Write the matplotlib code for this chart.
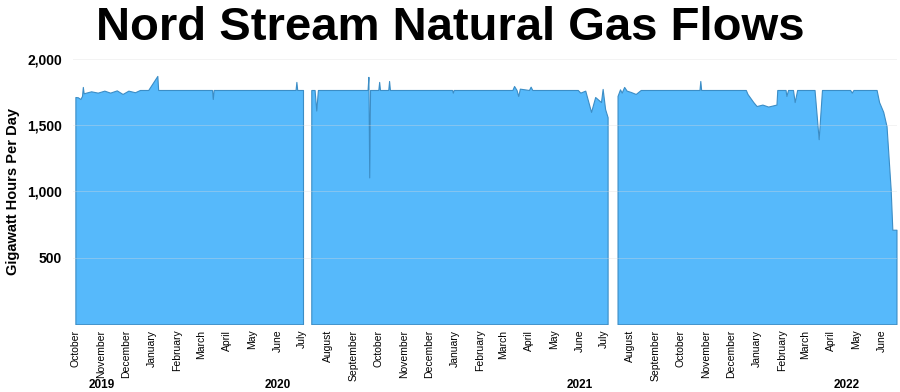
import matplotlib
matplotlib.use("Agg")
import matplotlib.pyplot as plt
import matplotlib.dates as mdates
import matplotlib.ticker as mticker
from matplotlib.transforms import blended_transform_factory
import pandas as pd

plt.rcParams['font.family'] = ['Liberation Sans', 'DejaVu Sans']

# Daily flow readings (GWh/day), split by the July maintenance gaps
seg1_dates = ["2019-10-01", "2019-10-04", "2019-10-07", "2019-10-09", "2019-10-10",
              "2019-10-11", "2019-10-20", "2019-10-28", "2019-11-05", "2019-11-12",
              "2019-11-20", "2019-11-27", "2019-12-04", "2019-12-12", "2019-12-18",
              "2019-12-28", "2020-01-08", "2020-01-09", "2020-03-14", "2020-03-15",
              "2020-03-16", "2020-06-23", "2020-06-24", "2020-06-25", "2020-07-02"]
seg1_values = [1712, 1710, 1697, 1720, 1788,
               1740, 1755, 1745, 1760, 1745,
               1762, 1735, 1760, 1748, 1765,
               1765, 1871, 1765, 1765, 1697,
               1765, 1765, 1826, 1765, 1765]

seg2_dates = ["2020-07-12", "2020-07-16", "2020-07-18", "2020-07-20", "2020-09-18",
              "2020-09-19", "2020-09-20", "2020-09-21", "2020-10-01", "2020-10-02",
              "2020-10-03", "2020-10-13", "2020-10-14", "2020-10-15", "2020-12-29",
              "2020-12-30", "2020-12-31", "2021-03-12", "2021-03-14", "2021-03-17",
              "2021-03-19", "2021-03-21", "2021-04-01", "2021-04-03", "2021-04-05",
              "2021-05-30", "2021-06-02", "2021-06-08", "2021-06-15", "2021-06-20",
              "2021-06-27", "2021-06-29", "2021-07-02", "2021-07-05"]
seg2_values = [1765, 1765, 1610, 1765, 1765,
               1864, 1106, 1765, 1765, 1826,
               1765, 1765, 1833, 1765, 1765,
               1745, 1765, 1765, 1795, 1765,
               1720, 1775, 1765, 1790, 1765,
               1765, 1745, 1760, 1600, 1712,
               1674, 1773, 1621, 1560]

seg3_dates = ["2021-07-17", "2021-07-20", "2021-07-22", "2021-07-25", "2021-07-28",
              "2021-08-02", "2021-08-08", "2021-08-14", "2021-10-24", "2021-10-25",
              "2021-10-26", "2021-12-19", "2021-12-21", "2021-12-28", "2022-01-01",
              "2022-01-08", "2022-01-15", "2022-01-25", "2022-01-26", "2022-02-05",
              "2022-02-06", "2022-02-08", "2022-02-14", "2022-02-16", "2022-02-19",
              "2022-03-12", "2022-03-17", "2022-03-21", "2022-04-24", "2022-04-26",
              "2022-04-28", "2022-05-26", "2022-05-29", "2022-06-03", "2022-06-07",
              "2022-06-12", "2022-06-14", "2022-06-19"]
seg3_values = [1720, 1770, 1745, 1788, 1760,
               1750, 1735, 1765, 1765, 1833,
               1765, 1765, 1735, 1674, 1644,
               1655, 1640, 1655, 1765, 1765,
               1720, 1765, 1765, 1674, 1765,
               1765, 1394, 1765, 1765, 1745,
               1765, 1765, 1674, 1600, 1492,
               1015, 712, 712]

year_labels = ["2019", "2020", "2021", "2022"]
year_label_dates = ["2019-11-02", "2020-06-01", "2021-06-01", "2022-04-20"]

FILL = "#56b9fb"
EDGE = "#3b8dc6"

fig = plt.figure(figsize=(9, 3.92), dpi=100)
ax = fig.add_axes([0.081, 0.173, 0.916, 0.677])

for d, v in [(seg1_dates, seg1_values), (seg2_dates, seg2_values), (seg3_dates, seg3_values)]:
    x = pd.to_datetime(d)
    ax.fill_between(x, v, 0, facecolor=FILL, edgecolor=EDGE, linewidth=0.8, zorder=2)

ax.set_xlim(pd.Timestamp("2019-09-28"), pd.Timestamp("2022-06-20"))
ax.set_ylim(0, 2000)

# faint gridlines that show through the fill
ax.set_yticks([500, 1000, 1500, 2000])
ax.yaxis.set_major_formatter(mticker.StrMethodFormatter("{x:,.0f}"))
for yv in [500, 1000, 1500, 2000]:
    ax.axhline(yv, color="#dcdcdc", linewidth=0.7, alpha=0.35, zorder=3)

ax.xaxis.set_major_locator(mdates.MonthLocator())
ax.xaxis.set_major_formatter(mdates.DateFormatter("%B"))
ax.tick_params(axis="x", length=0, labelsize=7.5, rotation=90, pad=4)
ax.tick_params(axis="y", length=0, labelsize=10, pad=8)
for lbl in ax.get_yticklabels():
    lbl.set_fontweight("bold")

for s in ax.spines.values():
    s.set_visible(False)

ax.set_ylabel("Gigawatt Hours Per Day", fontsize=10.5, fontweight="bold")
ax.yaxis.set_label_coords(-0.064, 0.5)

trans = blended_transform_factory(ax.transData, ax.transAxes)
for lab, d in zip(year_labels, year_label_dates):
    ax.text(pd.Timestamp(d), -0.23, lab, transform=trans, ha="center", va="center",
            fontsize=8.5, fontweight="bold")

fig.suptitle("Nord Stream Natural Gas Flows", x=0.5, y=0.985, fontsize=34,
             fontweight="bold")

fig.savefig("out.png", dpi=100)
